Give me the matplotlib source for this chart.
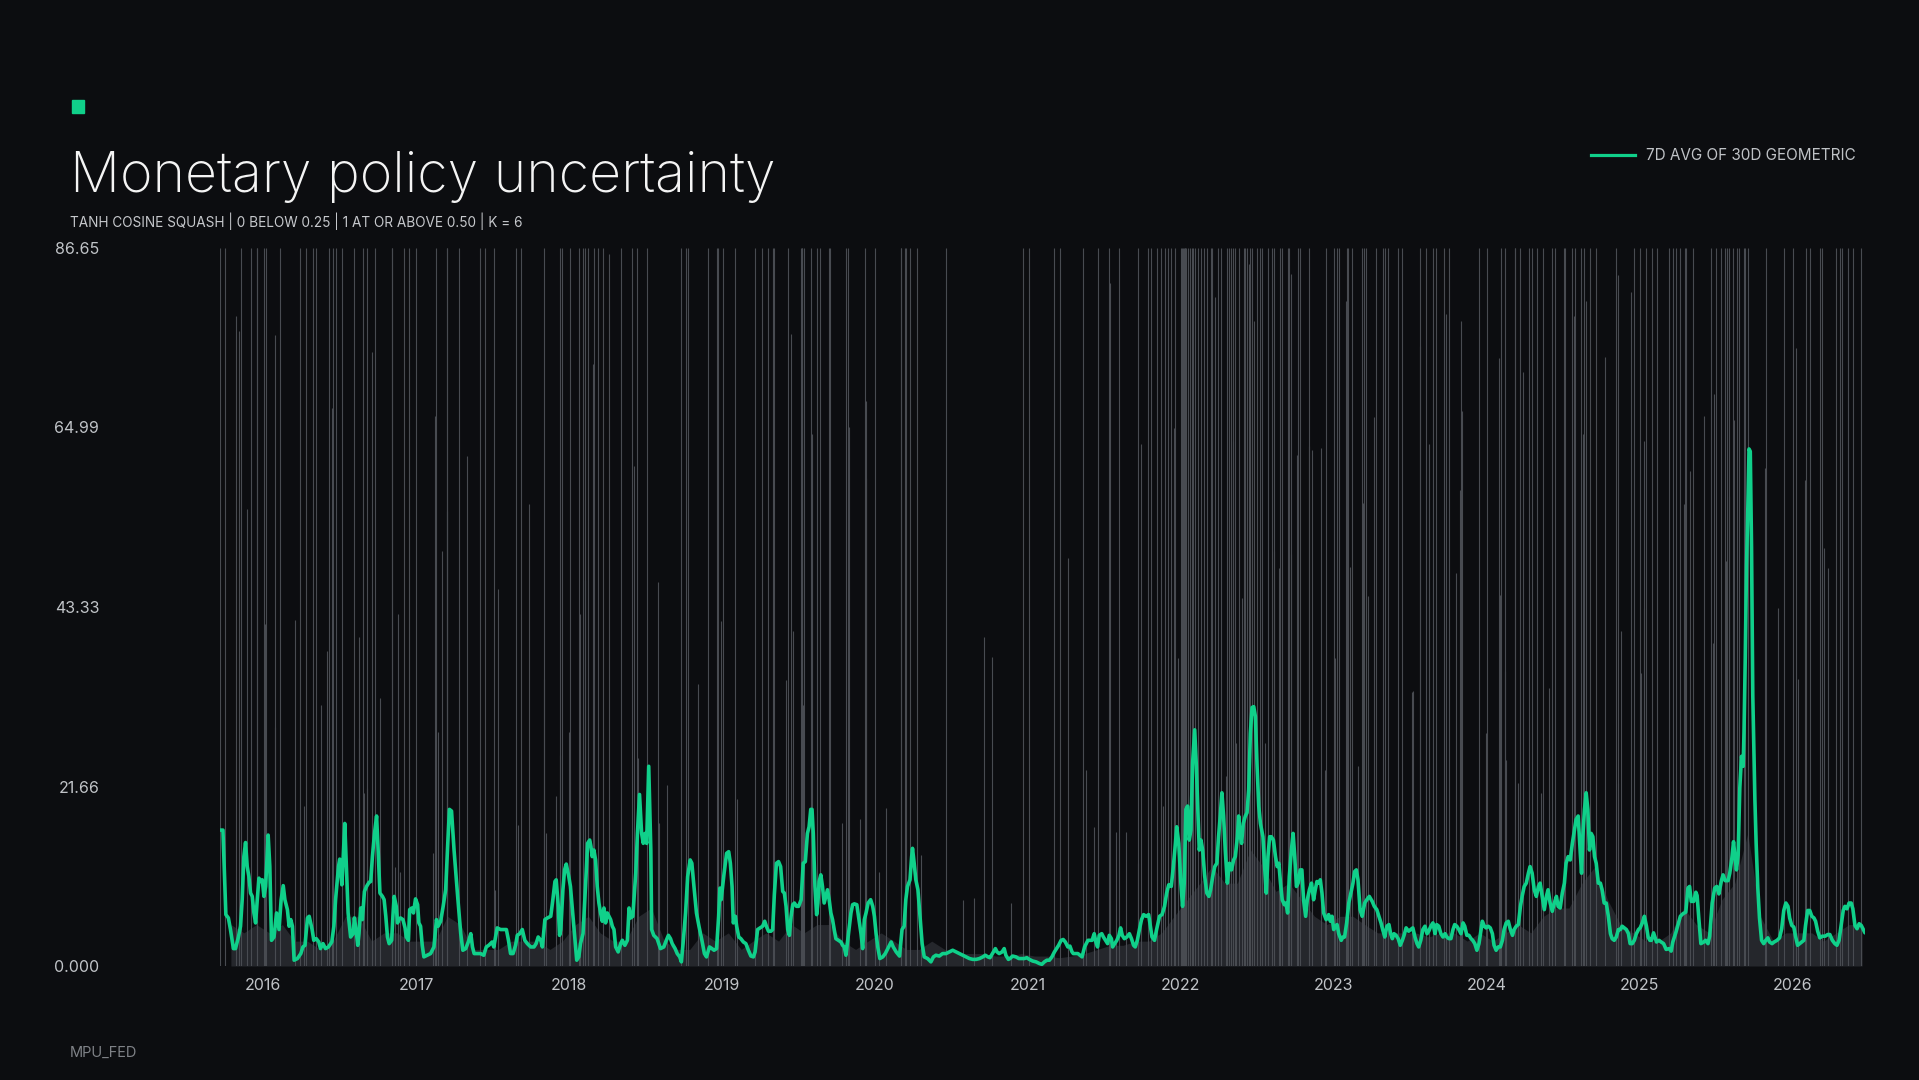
import matplotlib
matplotlib.use('Agg')
import matplotlib.pyplot as plt
import pandas as pd
from matplotlib.lines import Line2D
from matplotlib.patches import Rectangle

# day offsets are counted from the first reading
start = pd.Timestamp('2015-09-20')
n_days = 3929

# green line: 7d avg of 30d geometric (vertices)
avg_days = [
    0, 7, 14, 20, 25, 32, 37, 44, 49, 53, 57, 61, 65, 69, 73, 77, 81, 85, 89, 93, 97, 101, 105, 109, 115, 119, 123, 129, 135, 141,
    146, 151, 155, 161, 165, 169, 173, 177, 185, 193, 198, 203, 209, 213, 220, 224, 230, 236, 240, 246, 252, 259, 267, 272, 276, 283,
    286, 291, 294, 298, 301, 306, 312, 318, 321, 326, 329, 332, 336, 340, 345, 350, 356, 360, 364, 369, 374, 378, 382, 388, 392, 396,
    400, 404, 410, 413, 416, 421, 424, 427, 431, 437, 442, 445, 450, 453, 458, 462, 467, 472, 475, 479, 483, 487, 495, 503, 511, 517,
    521, 527, 533, 539, 544, 548, 553, 559, 567, 575, 580, 587, 593, 599, 603, 607, 615, 622, 630, 636, 642, 650, 654, 662, 670, 678,
    684, 689, 694, 700, 706, 710, 716, 722, 728, 734, 742, 750, 755, 760, 766, 770, 776, 782, 790, 795, 800, 803, 808, 811, 814, 819,
    823, 827, 833, 837, 843, 848, 852, 857, 861, 867, 873, 878, 883, 886, 889, 893, 897, 901, 905, 909, 913, 917, 921, 925, 929, 933,
    937, 941, 945, 951, 957, 961, 967, 973, 977, 981, 986, 993, 997, 1002, 1007, 1011, 1015, 1019, 1024, 1029, 1031, 1036, 1044, 1052,
    1060, 1066, 1071, 1076, 1080, 1087, 1092, 1098, 1102, 1106, 1112, 1117, 1123, 1127, 1132, 1138, 1144,
    1151, 1157, 1162, 1169, 1175, 1180, 1186, 1191, 1194, 1197, 1200, 1204, 1210, 1215, 1219, 1223, 1226, 1231, 1234, 1239, 1244,
    1250, 1256, 1262, 1268, 1274, 1278, 1284, 1290, 1296, 1301, 1305, 1310, 1316, 1320, 1324, 1329, 1334, 1339, 1344, 1348, 1352,
    1356, 1360, 1364, 1368, 1372, 1377, 1382, 1388, 1393, 1398, 1403, 1407, 1411, 1414, 1417, 1421, 1425, 1428, 1431, 1435, 1439,
    1443, 1447, 1451, 1455, 1459, 1463, 1467, 1471, 1477, 1483, 1487, 1491, 1495, 1501, 1507, 1511, 1515, 1521, 1525, 1531, 1535,
    1539, 1543, 1548, 1554, 1559, 1563, 1567, 1571, 1576, 1583, 1589, 1595, 1603, 1608, 1615, 1623, 1629, 1634, 1638, 1642, 1648,
    1652, 1654, 1658, 1662, 1667, 1672, 1677, 1682, 1690, 1698, 1704, 1710, 1718, 1726, 1734, 1742, 1750, 1758, 1766, 1774, 1782,
    1790, 1798, 1806, 1814, 1822, 1828, 1834, 1839, 1845, 1852, 1856, 1861, 1868, 1873, 1877, 1883, 1887, 1893, 1901, 1908, 1913,
    1921, 1927, 1933, 1941, 1949, 1957, 1963, 1969, 1975, 1981, 1987, 1993, 1998, 2003, 2009, 2014, 2019, 2025, 2030, 2035, 2038,
    2043, 2049, 2054, 2059, 2065, 2069, 2073, 2078, 2083, 2088, 2092, 2096, 2100, 2106, 2110, 2115, 2120, 2124, 2129, 2132, 2137,
    2142, 2147, 2151, 2155, 2160, 2166, 2172, 2177, 2182, 2186, 2191, 2196, 2201, 2206, 2212, 2218,
    2226, 2232, 2237, 2244, 2250, 2256, 2261, 2266, 2272, 2277, 2282, 2285, 2290, 2295, 2299, 2303, 2307, 2311, 2315, 2319, 2323,
    2328, 2332, 2336, 2339, 2343, 2347, 2352, 2357, 2362, 2366, 2371, 2376, 2381, 2385, 2389, 2393, 2397, 2401, 2406, 2411, 2416,
    2421, 2425, 2430, 2433, 2436, 2440, 2444, 2449, 2453, 2457, 2461, 2465, 2469, 2473, 2477, 2481, 2485, 2491, 2495, 2499, 2503,
    2507, 2511, 2516, 2521, 2525, 2529, 2533, 2537, 2542, 2546, 2550, 2554, 2559, 2563, 2567, 2571, 2575, 2580, 2584, 2588, 2593,
    2597, 2602, 2607, 2612, 2616, 2620, 2624, 2628, 2632, 2636, 2642, 2648, 2652, 2656, 2660, 2664, 2668, 2672, 2678, 2682, 2686,
    2691, 2696, 2701, 2706, 2710, 2714, 2718, 2723, 2728, 2734, 2739, 2745, 2752, 2757, 2763, 2768, 2773, 2777, 2782, 2787, 2792,
    2796, 2800, 2804, 2809, 2814, 2819, 2824, 2828, 2833, 2839, 2844, 2849, 2854, 2859, 2863, 2868, 2873, 2878, 2883, 2887, 2892,
    2897, 2902, 2906, 2911, 2916, 2921, 2926, 2930, 2935, 2940, 2945, 2949, 2954, 2959, 2964, 2969, 2973, 2978, 2983, 2988, 2992,
    2997, 3002, 3007, 3012, 3015, 3020, 3024, 3029, 3034, 3039, 3043, 3048, 3053, 3058, 3063, 3067, 3072, 3077, 3082, 3087, 3091,
    3096, 3101, 3106, 3110, 3115, 3120, 3125, 3129, 3134, 3139, 3144, 3149, 3153, 3158, 3163, 3168, 3172, 3177, 3182, 3187, 3192,
    3196, 3201, 3206, 3211, 3215, 3220, 3225, 3230, 3235, 3239, 3244, 3249, 3252, 3255, 3259, 3263, 3267, 3271, 3275, 3279, 3283,
    3287, 3292, 3297, 3301, 3306, 3311, 3316, 3321, 3325, 3330, 3335, 3340, 3345, 3349, 3354, 3359, 3364, 3368, 3373, 3378, 3383,
    3388, 3392, 3397, 3402, 3407, 3411, 3415,
    3419, 3424, 3431, 3437, 3442, 3448, 3454, 3461, 3466, 3470, 3477, 3482, 3488, 3494, 3501, 3506, 3510, 3514, 3520, 3525, 3528,
    3532, 3537, 3544, 3548, 3554, 3558, 3564, 3570, 3575, 3580, 3586, 3590, 3595, 3602, 3606, 3611, 3615, 3618, 3622, 3626, 3630,
    3634, 3638, 3640, 3643, 3646, 3650, 3652, 3655, 3658, 3661, 3666, 3669, 3673, 3677, 3682, 3687, 3692, 3697, 3701, 3707, 3712,
    3719, 3725, 3730, 3735, 3740, 3745, 3749, 3754, 3759, 3763, 3768, 3773, 3778, 3783, 3787, 3792, 3797, 3802, 3807, 3811, 3816,
    3821, 3827, 3834, 3840, 3845, 3851, 3857, 3862, 3867, 3872, 3877, 3881, 3886, 3891, 3896, 3900, 3905, 3910, 3915, 3920, 3924,
    3929,
]
avg_values = [
    16.4, 16.4, 6.2, 5.8, 4.4, 2.1, 2.1, 3.5, 4.8, 8.0, 13.2, 14.9, 12.0, 10.8, 8.8, 8.4, 6.4, 5.2, 8.0, 10.6, 10.2, 10.4, 8.4, 9.6, 15.8, 12.0, 3.1, 3.5, 6.4, 4.4,
    8.0, 9.7, 8.0, 6.8, 4.8, 5.6, 4.8, 0.7, 0.9, 1.5, 2.3, 2.5, 5.8, 6.0, 4.4, 3.1, 3.3, 2.9, 2.1, 2.7, 2.1, 2.3, 2.9, 4.8, 8.0, 12.0,
    12.9, 9.8, 12.8, 17.2, 13.2, 6.4, 3.5, 3.9, 5.8, 3.9, 2.5, 3.9, 7.0, 5.6, 9.0, 9.6, 10.1, 10.2, 13.2, 16.0, 18.1, 13.6, 8.8, 8.4, 8.0, 6.0,
    3.5, 2.7, 3.1, 6.0, 8.4, 7.2, 5.2, 5.6, 5.8, 5.6, 4.6, 3.5, 3.1, 6.8, 7.0, 6.4, 8.1, 7.4, 5.2, 4.8, 2.5, 1.1, 1.3, 1.5, 2.3, 5.6,
    4.8, 5.4, 7.2, 9.2, 14.8, 18.9, 18.7, 14.0, 8.8, 3.9, 1.9, 2.1, 2.9, 3.9, 2.3, 1.5, 1.5, 1.5, 1.3, 2.3, 2.5, 2.9, 2.3, 4.6, 4.4, 4.4,
    4.4, 3.1, 1.5, 1.5, 2.5, 3.7, 3.9, 4.4, 3.1, 2.7, 2.3, 2.3, 2.7, 3.5, 3.1, 2.3, 5.6, 5.8, 6.0, 8.0, 10.2, 10.4, 7.2, 3.7, 4.4, 9.2,
    11.6, 12.3, 10.8, 9.6, 6.0, 3.1, 0.7, 1.1, 2.7, 3.9, 9.6, 14.8, 15.2, 14.4, 13.2, 14.0, 12.8, 9.6, 7.6, 6.4, 5.4, 7.0, 5.2, 6.4, 6.0, 5.6,
    4.8, 4.4, 2.3, 1.7, 2.7, 3.1, 2.5, 3.1, 7.0, 5.8, 6.0, 11.2, 16.0, 20.7, 16.0, 14.8, 16.0, 14.8, 24.1, 14.0, 4.4, 3.7, 3.3, 2.1,
    2.3, 3.1, 3.7, 3.3, 2.7, 2.1, 1.5, 1.1, 0.5, 2.7, 6.4, 10.8, 12.8, 12.4, 9.6, 6.4, 4.8,
    3.1, 1.5, 1.1, 2.3, 2.1, 1.9, 2.1, 6.0, 9.4, 8.0, 9.4, 11.2, 13.6, 13.8, 12.4, 9.6, 5.2, 6.0, 4.8, 3.5, 3.3,
    2.9, 2.7, 1.9, 1.2, 1.1, 1.7, 4.4, 4.6, 4.8, 5.4, 4.8, 4.2, 4.2, 4.4, 8.6, 12.4, 12.6, 12.0, 9.0, 8.8, 7.2,
    4.4, 3.7, 6.0, 7.4, 7.6, 7.2, 7.2, 8.0, 12.4, 12.6, 16.0, 16.8, 18.9, 18.9, 16.0, 9.6, 6.2, 7.6, 10.2, 11.0, 9.6,
    7.6, 8.4, 9.2, 8.0, 6.4, 5.6, 4.4, 3.3, 3.1, 2.9, 2.5, 2.3, 1.3, 3.9, 6.4, 7.4, 7.5, 7.4, 6.0, 3.9, 2.1,
    5.6, 6.4, 7.6, 8.0, 7.2, 6.0, 3.9, 2.3, 0.9, 1.1, 1.5, 2.1, 2.9, 2.3, 1.7, 1.2, 4.4, 4.8, 8.0, 9.6, 10.4,
    13.2, 14.2, 12.4, 10.4, 9.2, 6.0, 2.7, 1.1, 0.9, 0.5, 1.1, 1.3, 1.2, 1.5, 1.5, 1.7, 1.9, 1.7, 1.5, 1.3, 1.1,
    0.9, 0.8, 0.8, 0.9, 1.1, 1.3, 1.1, 1.0, 1.5, 2.1, 1.7, 1.5, 1.7, 2.1, 1.3, 0.8, 0.9, 1.2, 1.1, 0.9, 0.9,
    0.9, 1.0, 0.8, 0.6, 0.5, 0.3, 0.2, 0.5, 0.7, 0.7, 1.1, 1.7, 2.1, 2.5, 3.1, 3.2, 2.9, 2.3, 2.4, 1.7, 1.5,
    1.5, 1.5, 1.3, 1.1, 2.3, 2.7, 3.1, 3.1, 3.1, 3.9, 2.9, 2.3, 3.7, 3.9, 3.5, 3.1, 2.7, 3.7, 3.3, 2.3, 2.7,
    3.1, 3.7, 4.6, 3.7, 3.3, 3.5, 3.9, 3.3, 2.5, 2.3, 3.1, 4.4, 5.6, 6.2, 6.0, 6.2,
    3.5, 3.1, 4.4, 6.0, 6.2, 7.2, 8.8, 9.8, 9.6, 12.0, 14.8, 16.8, 14.8, 10.0, 7.2, 10.0, 18.9, 19.3, 15.2, 16.4, 24.5,
    28.5, 24.1, 18.1, 14.0, 15.2, 14.0, 10.8, 8.8, 8.4, 9.2, 10.8, 12.0, 12.4, 15.6, 18.1, 20.9, 18.1, 14.0, 10.0, 12.4, 11.6,
    12.8, 13.2, 15.6, 18.1, 16.0, 14.8, 17.2, 18.1, 18.5, 21.3, 28.1, 31.2, 31.3, 30.1, 24.1, 19.3, 17.2, 15.6, 12.0, 8.8, 13.2,
    15.6, 15.6, 15.2, 13.2, 12.0, 12.4, 10.0, 8.0, 7.4, 7.6, 6.4, 10.8, 14.0, 16.0, 13.2, 9.6, 10.0, 11.6, 11.6, 8.0, 6.0,
    8.0, 9.2, 10.0, 8.0, 9.2, 10.2, 10.0, 10.4, 8.8, 6.4, 5.6, 6.2, 5.4, 6.0, 4.4, 4.8, 5.0, 3.9, 3.1, 3.5, 3.5,
    5.2, 7.6, 8.8, 10.0, 11.4, 11.6, 10.4, 6.8, 6.0, 7.6, 8.0, 8.4, 7.8, 7.2, 6.8, 6.0, 5.2, 4.4, 3.5, 4.8, 5.0,
    3.9, 3.3, 3.9, 3.7, 3.3, 2.5, 3.1, 3.7, 4.6, 4.2, 4.4, 4.6, 3.5, 2.7, 2.3, 3.1, 4.4, 4.8, 3.9, 4.2, 4.8,
    5.2, 3.9, 5.0, 4.8, 3.9, 3.5, 3.9, 3.5, 3.3, 3.3, 4.4, 5.0, 4.8, 4.4, 3.9, 5.2, 4.8, 3.7, 3.7, 3.3, 3.1,
    2.7, 1.9, 2.7, 4.4, 5.4, 4.8, 4.6, 4.8, 4.6, 3.9, 2.5, 1.9, 2.3, 2.3, 3.1, 4.4, 5.2, 5.4, 4.4, 3.7, 4.4,
    4.8, 5.0, 7.2, 8.4, 9.6, 10.0, 11.2, 12.0, 11.2, 9.2, 8.4, 9.6, 10.0, 8.4, 6.8, 8.4, 9.2, 7.6, 6.6, 7.6, 8.4,
    7.2, 7.0, 8.8, 10.0, 12.4, 13.2, 12.8, 14.8, 16.4, 17.7, 18.1, 13.6, 11.2, 15.6, 18.9, 20.9, 18.9, 14.0, 16.0, 15.6, 13.2,
    12.4, 10.0, 10.0, 9.2, 7.6, 7.6, 6.0, 3.9, 3.3, 3.1, 3.5, 4.4, 4.4, 4.8, 4.6, 4.4, 3.9, 2.7, 2.7, 3.1, 3.9,
    4.4, 4.6, 5.2, 6.0, 4.8, 3.5, 3.1,
    3.1, 4.0, 2.9, 3.1, 2.9, 2.7, 2.0, 2.1, 1.8, 2.9, 4.0, 4.9, 6.0, 6.3, 6.5, 9.4, 9.6, 7.8, 7.8, 8.9, 8.5,
    5.8, 2.7, 2.9, 3.1, 2.7, 3.6, 7.6, 9.4, 9.6, 8.7, 10.3, 11.0, 10.3, 10.3, 11.2, 13.0, 15.0, 13.4, 11.6, 13.4, 21.5,
    25.3, 24.1, 28.2, 37.1, 48.3, 57.2, 62.4, 62.1, 50.5, 32.6, 20.1, 14.8, 9.4, 5.8, 3.1, 2.7, 3.1, 3.4, 2.9, 2.7, 2.9,
    3.1, 3.4, 4.5, 6.7, 7.6, 7.2, 5.8, 4.9, 4.7, 3.6, 2.5, 2.7, 2.9, 3.1, 4.9, 6.7, 6.7, 6.0, 5.8, 5.4, 4.2,
    3.4, 3.6, 3.6, 3.8, 3.8, 3.1, 2.7, 2.5, 3.1, 4.9, 6.7, 7.2, 6.9, 7.6, 7.6, 6.9, 4.9, 4.5, 5.1, 4.9, 4.5,
    4.0,
]

# raw daily readings that hit the cap of the scale
cap_value = 86.65
cap_days = [
    0, 13, 49, 75, 88, 89, 104, 111, 144, 192, 206, 221, 230, 261, 270, 276, 292, 321, 342, 350, 370, 411, 412, 440,
    452, 469, 515, 541, 542, 572, 622, 634, 655, 706, 718, 775, 812, 816, 835, 857, 867, 872, 878, 893, 902, 914, 957,
    985, 997, 1021, 1102, 1113, 1117, 1165, 1188, 1189, 1202, 1230, 1278, 1294, 1310, 1322, 1323, 1356, 1388, 1389,
    1390, 1395, 1411, 1425, 1433, 1454, 1458, 1495, 1501, 1540, 1564, 1626, 1627, 1637, 1638, 1648, 1664, 1733, 1917, 1932,
    1992, 2006, 2061, 2096, 2123, 2147, 2193, 2216, 2223, 2237, 2247, 2257, 2264, 2272, 2280, 2296, 2298, 2300, 2302, 2304,
    2306, 2308, 2312, 2316, 2322, 2325, 2328, 2336, 2343, 2351, 2357, 2366, 2370, 2384, 2390,
    2405, 2409, 2414, 2419, 2424, 2433, 2446, 2449, 2454, 2460, 2465, 2476,
    2484, 2488, 2502, 2513, 2518, 2532, 2537, 2551, 2554, 2575, 2580, 2601, 2641, 2661, 2667, 2672, 2692, 2695, 2703,
    2728, 2733, 2738, 2761, 2777, 2782, 2789, 2813, 2824, 2866, 2880, 2898, 2904, 2923, 2935,
    3007, 3026, 3059, 3069, 3092, 3093, 3105, 3126, 3134, 3146, 3160, 3181, 3189, 3211, 3212, 3230, 3237, 3251, 3258, 3273,
    3287, 3335, 3377, 3391, 3406, 3421, 3433, 3461, 3470, 3478, 3488, 3500, 3501, 3517, 3560, 3573, 3586, 3594, 3599, 3605,
    3614, 3623, 3629, 3639, 3643, 3650, 3693, 3735, 3757, 3788, 3798, 3822, 3826, 3860, 3870, 3874, 3888, 3900, 3919,
]

# raw daily readings below the cap
raw_days = [
    39, 46, 65, 108, 132, 178, 242, 256, 268, 333, 362, 383, 424, 514, 531, 543, 591, 663, 737, 773, 859, 871, 891, 930,
    990, 1047, 1141, 1196, 1353, 1363, 1368, 1392, 1413, 1503, 1542, 1544, 1824, 1843,
    2025, 2125, 2199, 2278, 2288, 2376, 2420, 2441, 2457, 2469, 2517, 2529, 2558, 2559, 2573, 2602, 2608, 2629, 2663, 2689,
    2699, 2729, 2741, 2756, 2847, 2867, 2887, 2928,
    2953, 2962, 2964, 2966, 3055, 3057, 3070, 3112, 3175, 3235, 3255, 3262, 3309, 3340, 3346, 3370, 3400, 3402, 3497, 3512,
    3544, 3567, 3569, 3596, 3604, 3616, 3689, 3721, 3764, 3768, 3785, 3831, 3841,
    131, 201, 230, 332, 343, 351, 418, 430, 509, 521, 658, 712, 778, 802, 813, 833, 999, 1048, 1068,
    1236, 1308, 1485, 1529, 1575, 1591, 1674, 1774, 1802, 1889, 2069, 2088, 2139, 2164, 2192,
    2252, 2299, 2403, 2427, 2495, 2640, 2718, 2849, 3024, 3072, 3100, 3156, 3339, 3395,
]
raw_values = [
    78.5, 76.6, 55.1, 41.3, 76.2, 41.8, 31.5, 38.0, 67.4, 39.7, 74.1, 32.3, 42.5, 66.4, 50.1, 54.9, 61.5, 45.5, 55.8, 34.6, 42.5, 46.6, 72.6, 85.9,
    60.3, 46.4, 34.0, 41.6, 34.5, 76.3, 40.4, 31.5, 64.2, 65.0, 68.2, 58.9, 39.7, 37.3,
    49.2, 82.4, 63.0, 64.9, 37.2, 80.7, 63.4, 44.4, 84.7, 77.8, 50.1, 48.0, 49.7, 83.5, 61.7, 62.7, 62.3, 62.5, 37.2, 80.3,
    48.1, 55.9, 44.6, 66.2, 33.1, 74.8, 63.0, 78.7,
    47.4, 57.4, 77.8, 67.0, 73.4, 44.8, 35.6, 71.7, 33.5, 78.5, 64.2, 80.3, 73.5, 83.4, 40.4, 81.3, 43.2, 63.3, 55.7, 59.7,
    66.4, 39.0, 69.0, 48.9, 56.7, 65.9, 60.1, 43.2, 74.6, 34.6, 58.7, 50.4, 48.0,
    28.9, 19.3, 17.6, 27.5, 20.9, 21.5, 12.0, 11.4, 13.6, 28.3, 9.2, 17.0, 16.0, 20.5, 25.5, 28.3, 25.1, 17.2, 21.9,
    20.1, 12.8, 17.2, 17.7, 11.4, 19.1, 13.4, 8.0, 8.2, 7.6, 23.7, 16.8, 16.2, 16.2, 12.4,
    19.3, 24.5, 22.9, 26.9, 26.9, 23.7, 24.1, 33.2, 28.1, 24.9, 22.1, 20.9, 22.1, 35.4,
]

# typical height of the dense low daily readings, one per month from Oct 2015
low_level = [
    5, 4, 5,
    4, 5, 3, 3, 2, 3, 6, 6, 3, 4, 4, 3,
    3, 3, 6, 5, 2, 2, 2, 3, 3, 3, 2, 3,
    5, 6, 4, 3, 3, 6, 7, 3, 2, 2, 4, 3,
    4, 2, 3, 4, 3, 5, 4, 5, 5, 3, 2, 3,
    4, 3, 2, 2, 3, 2, 1.5, 1.5, 1.5, 1.2, 1.2, 1.5,
    1.2, 1.2, 1, 1.2, 1.5, 2, 2.5, 2.5, 3, 3, 4, 6,
    8, 10, 12, 10, 10, 14, 12, 9, 10, 8, 6, 5,
    6, 6, 5, 4, 4, 4, 4, 3.5, 4, 4, 3, 4,
    3, 4, 5, 4, 6, 7, 7, 10, 12, 8, 5, 4,
    3, 3, 4, 7, 5, 4, 8, 10, 16, 6, 3, 4,
    4, 4, 3, 4, 5, 5,
]

y_ticks = [0.0, 21.66, 43.33, 64.99, 86.65]
y_labels = ['0.000', '21.66', '43.33', '64.99', '86.65']
years = list(range(2016, 2027))

bg = '#0c0d10'
green = '#10d08a'

W, H = 1919, 1080
fig = plt.figure(figsize=(W / 100, H / 100), dpi=100, facecolor=bg)
ax = fig.add_axes([220 / W, 1 - 966 / H, 1645 / W, 718 / H])
ax.set_facecolor(bg)


def to_dates(days):
    return start + pd.to_timedelta(days, unit='D')


months = pd.date_range('2015-10-01', periods=len(low_level), freq='MS') + pd.Timedelta(days=15)
ax.fill_between(months, 0, low_level, color='#25272c', lw=0, zorder=1)

ax.vlines(to_dates(cap_days), 0, cap_value, color='#484b51', lw=0.8, zorder=2)
ax.vlines(to_dates(raw_days), 0, raw_values, color='#484b51', lw=0.8, zorder=2)

ax.plot(to_dates(avg_days), avg_values, color=green, lw=2.6, solid_joinstyle='round',
        solid_capstyle='round', zorder=3)

ax.set_xlim(start, start + pd.Timedelta(days=n_days))
ax.set_ylim(0, 86.65)
ax.set_yticks(y_ticks)
ax.set_yticklabels(y_labels)
ax.set_xticks([pd.Timestamp(f'{y}-01-01') for y in years])
ax.set_xticklabels([str(y) for y in years])
for s in ax.spines.values():
    s.set_visible(False)
ax.tick_params(axis='y', length=0, pad=87, labelsize=11.5, labelcolor='#c0c3c7')
ax.tick_params(axis='x', length=0, pad=9, labelsize=11.5, labelcolor='#c0c3c7')
for lab in ax.get_xticklabels() + ax.get_yticklabels():
    lab.set_family(['Inter', 'DejaVu Sans'])

# header
fig.add_artist(Rectangle((72 / W, 1 - 113 / H), 12 / W, 13 / H, color=green, transform=fig.transFigure))
fig.text(70 / W, 1 - 192 / H, 'Monetary policy uncertainty', color='#f4f4f4', fontsize=40,
         family=['Inter', 'DejaVu Sans'], fontweight='light', va='baseline')
fig.text(70 / W, 1 - 221 / H, 'TANH COSINE SQUASH | 0 BELOW 0.25 | 1 AT OR ABOVE 0.50 | K = 6',
         color='#c6c8cc', fontsize=9.8, family=['Inter', 'DejaVu Sans'], va='center')

# legend
fig.add_artist(Line2D([1591 / W, 1635 / W], [1 - 155 / H, 1 - 155 / H], color=green, lw=2.3,
                      transform=fig.transFigure))
fig.text(1646 / W, 1 - 155 / H, '7D AVG OF 30D GEOMETRIC', color='#bfc2c6', fontsize=11,
         family=['Inter', 'DejaVu Sans'], va='center')

fig.text(70 / W, 1 - 1053 / H, 'MPU_FED', color='#7f8287', fontsize=10.5,
         family=['Inter', 'DejaVu Sans'], va='center')

fig.savefig('out.png', dpi=100, facecolor=bg)
